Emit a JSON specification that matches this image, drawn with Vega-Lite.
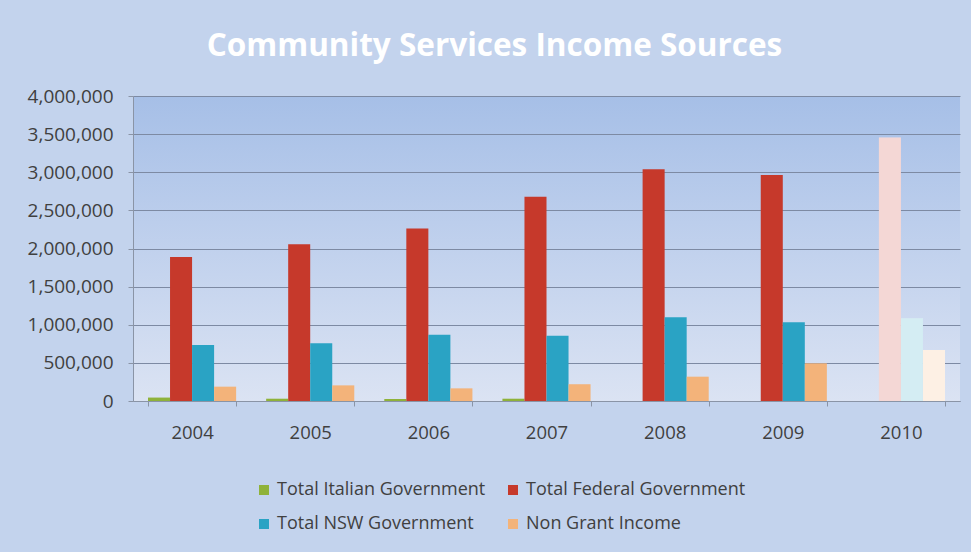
{
  "$schema": "https://vega.github.io/schema/vega-lite/v6.json",
  "width": 827,
  "height": 305,
  "autosize": {"type": "none"},
  "padding": {"left": 133, "top": 96, "right": 11, "bottom": 151},
  "background": "#c3d3ed",
  "config": {
    "view": {
      "stroke": null,
      "fill": {
        "gradient": "linear",
        "x1": 0, "y1": 0, "x2": 0, "y2": 1,
        "stops": [
          {"offset": 0, "color": "#a6bfe7"},
          {"offset": 1, "color": "#dbe3f3"}
        ]
      }
    },
    "font": "Open Sans"
  },
  "title": {
    "text": "Community Services Income Sources",
    "font": "Open Sans",
    "fontSize": 31.5,
    "fontWeight": "bold",
    "color": "white",
    "anchor": "middle",
    "baseline": "alphabetic",
    "dx": -52,
    "offset": 0
  },
  "data": {
    "values": [
      {"year": "2004", "series": "Total Italian Government", "value": 45000},
      {"year": "2004", "series": "Total Federal Government", "value": 1890000},
      {"year": "2004", "series": "Total NSW Government", "value": 735000},
      {"year": "2004", "series": "Non Grant Income", "value": 188000},
      {"year": "2005", "series": "Total Italian Government", "value": 30000},
      {"year": "2005", "series": "Total Federal Government", "value": 2055000},
      {"year": "2005", "series": "Total NSW Government", "value": 757000},
      {"year": "2005", "series": "Non Grant Income", "value": 205000},
      {"year": "2006", "series": "Total Italian Government", "value": 25000},
      {"year": "2006", "series": "Total Federal Government", "value": 2262000},
      {"year": "2006", "series": "Total NSW Government", "value": 870000},
      {"year": "2006", "series": "Non Grant Income", "value": 166000},
      {"year": "2007", "series": "Total Italian Government", "value": 30000},
      {"year": "2007", "series": "Total Federal Government", "value": 2680000},
      {"year": "2007", "series": "Total NSW Government", "value": 857000},
      {"year": "2007", "series": "Non Grant Income", "value": 220000},
      {"year": "2008", "series": "Total Italian Government", "value": 0},
      {"year": "2008", "series": "Total Federal Government", "value": 3040000},
      {"year": "2008", "series": "Total NSW Government", "value": 1100000},
      {"year": "2008", "series": "Non Grant Income", "value": 319000},
      {"year": "2009", "series": "Total Italian Government", "value": 0},
      {"year": "2009", "series": "Total Federal Government", "value": 2965000},
      {"year": "2009", "series": "Total NSW Government", "value": 1032000},
      {"year": "2009", "series": "Non Grant Income", "value": 494000},
      {"year": "2010", "series": "Total Italian Government", "value": 0},
      {"year": "2010", "series": "Total Federal Government", "value": 3455000},
      {"year": "2010", "series": "Total NSW Government", "value": 1085000},
      {"year": "2010", "series": "Non Grant Income", "value": 668000}
    ]
  },
  "encoding": {
    "x": {
      "field": "year",
      "type": "nominal",
      "title": null,
      "scale": {"paddingInner": 0.254, "paddingOuter": 0.127},
      "axis": {
        "labelAngle": 0,
        "labelFontSize": 18.5,
        "labelColor": "#404040",
        "labelPadding": 17,
        "domainColor": "#8a94a6",
        "tickColor": "#8a94a6",
        "tickSize": 5,
        "tickBand": "extent",
        "grid": false
      }
    },
    "xOffset": {
      "field": "series",
      "type": "nominal",
      "sort": ["Total Italian Government", "Total Federal Government", "Total NSW Government", "Non Grant Income"],
      "scale": {"paddingInner": 0, "paddingOuter": 0}
    },
    "y": {
      "field": "value",
      "type": "quantitative",
      "title": null,
      "scale": {"domain": [0, 4000000]},
      "axis": {
        "values": [0, 500000, 1000000, 1500000, 2000000, 2500000, 3000000, 3500000, 4000000],
        "format": ",d",
        "labelFontSize": 19,
        "labelColor": "#404040",
        "labelPadding": 15,
        "domainColor": "#8a94a6",
        "tickColor": "#8a94a6",
        "tickSize": 5,
        "gridColor": "#7d8aa3",
        "gridWidth": 1.2
      }
    }
  },
  "layer": [
    {
      "transform": [{"filter": "datum.year == '2010'"}],
      "mark": {"type": "bar", "color": "white"}
    },
    {
      "mark": {"type": "bar"},
      "encoding": {
        "color": {
          "field": "series",
          "type": "nominal",
          "sort": ["Total Italian Government", "Total Federal Government", "Total NSW Government", "Non Grant Income"],
          "scale": {
            "domain": ["Total Italian Government", "Total Federal Government", "Total NSW Government", "Non Grant Income"],
            "range": ["#8fb23a", "#c6392b", "#2aa3c4", "#f3b37a"]
          },
          "legend": {
            "title": null,
            "orient": "none",
            "legendX": 122,
            "legendY": 385,
            "columns": 2,
            "direction": "horizontal",
            "symbolType": "square",
            "symbolSize": 100,
            "symbolStrokeWidth": 0,
            "labelFontSize": 18,
            "labelColor": "#404040",
            "labelLimit": 400,
            "rowPadding": 16,
            "columnPadding": 18
          }
        },
        "opacity": {
          "condition": {"test": "datum.year == '2010'", "value": 0.2},
          "value": 1
        }
      }
    }
  ]
}
